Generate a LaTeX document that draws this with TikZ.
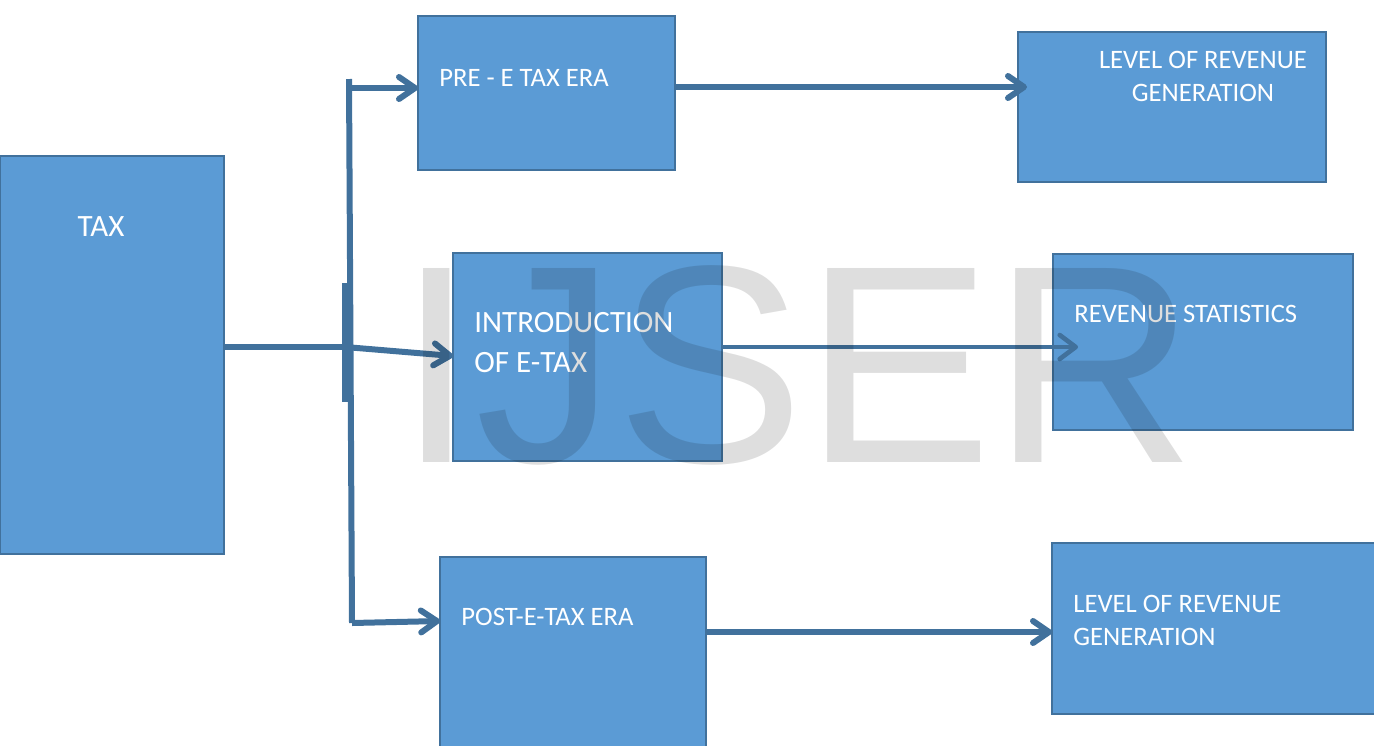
\documentclass[tikz,border=0pt]{standalone}
\usepackage{fontspec}
\setmainfont{Carlito}
\newfontfamily\wmfont{Liberation Sans}
\usetikzlibrary{arrows.meta}
\definecolor{boxfill}{HTML}{5B9BD5}
\definecolor{boxline}{HTML}{41719C}
\definecolor{arrowcol}{HTML}{41719C}
\tikzset{
  blk/.style={draw=boxline, fill=boxfill, line width=1.25pt, anchor=north west, inner sep=0pt, outer sep=0pt},
  lbl/.style={text=white, font=\fontsize{13.3}{16.5}\selectfont, inner sep=0pt, anchor=west, align=left},
  biglbl/.style={text=white, font=\fontsize{15.5}{20}\selectfont, inner sep=0pt, anchor=west, align=left},
  conn/.style={draw=arrowcol, line width=3pt},
  arr/.style={conn, -{Straight Barb[length=8pt,width=11pt,round]}},
  thinarr/.style={draw=arrowcol, line width=2.3pt, -{Straight Barb[length=8pt,width=12pt,round]}}
}
\begin{document}
\begin{tikzpicture}[x=0.5pt,y=-0.5pt]
\useasboundingbox (0,0) rectangle (1374,745);
% boxes
\node[blk, minimum width=112pt, minimum height=199pt] (tax) at (0,156) {};
\node[blk, minimum width=128.5pt, minimum height=77pt] (pre) at (418,16) {};
\node[blk, minimum width=134.5pt, minimum height=104pt] (intro) at (453,253) {};
\node[blk, minimum width=133pt, minimum height=96pt] (post) at (440,557) {};
\node[blk, minimum width=154pt, minimum height=75pt] (lvl1) at (1018,32) {};
\node[blk, minimum width=150pt, minimum height=88pt] (rs) at (1053,254) {};
\node[blk, minimum width=163pt, minimum height=85.5pt] (lvl2) at (1052,543) {};
% labels
\node[biglbl, anchor=center] (taxt) at (101,227) {TAX};
\node[lbl] (pret) at (439,78) {PRE - E TAX ERA};
\node[biglbl] (introt) at (474,343) {INTRODUCTION\\OF E-TAX};
\node[lbl] (postt) at (461,617) {POST-E-TAX ERA};
\node[lbl, anchor=center, align=center] (lvl1t) at (1203,76) {LEVEL OF REVENUE\\GENERATION};
\node[lbl] (rst) at (1074,314) {REVENUE STATISTICS};
\node[lbl] (lvl2t) at (1073,620) {LEVEL OF REVENUE\\GENERATION};
% connectors
\coordinate (j) at (345,347);
\coordinate (vtop) at (349,79);
\coordinate (vbot) at (352,623);
\coordinate (ptop) at (349,88);
\coordinate (s1) at (345,283);
\coordinate (s2) at (345,402);
\draw[conn] (vtop) -- (vbot);
\draw[conn] (s1) -- (s2);
\draw[conn] (tax.east |- j) -- (j);
\draw[arr] (j) -- (intro.west |- 0,356);
\draw[arr] (ptop) -- (pre.west |- ptop);
\draw[arr] (vbot) -- (post.west |- 0,621);
\draw[arr] (pre.east |- 0,87) -- (1027,87) coordinate (l1in);
\draw[thinarr] (intro.east |- 0,347) -- (1078,347) coordinate (rsin);
\draw[arr] (post.east |- 0,632) -- (lvl2.west |- 0,632);
% watermark
\node[anchor=base west, inner sep=0pt, text=black, text opacity=0.13, font=\wmfont\fontsize{141}{141}\selectfont] (wm) at (397,462) {IJSER};
\end{tikzpicture}
\end{document}
